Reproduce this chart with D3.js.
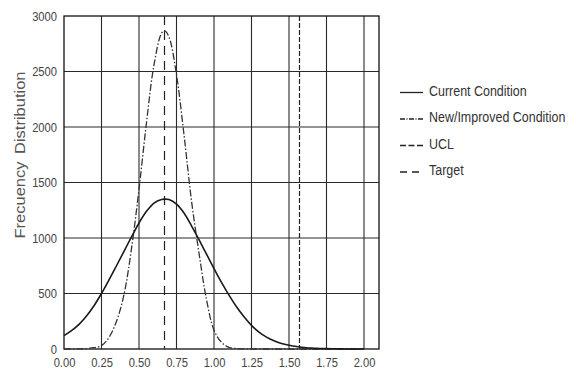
<!DOCTYPE html>
<html>
<head>
<meta charset="utf-8">
<script src="https://cdn.jsdelivr.net/npm/d3@7"></script>
<style>
  body { margin: 0; background: #fff; }
  text { font-family: "Liberation Sans", Arial, sans-serif; }
</style>
</head>
<body>
<div id="chart"></div>
<script>
// x positions where the curves were read
const xValues = [0, 0.05, 0.10, 0.15, 0.20, 0.25, 0.30, 0.35, 0.40, 0.45, 0.50, 0.55, 0.60, 0.65, 0.67, 0.70,
  0.75, 0.80, 0.85, 0.90, 0.95, 1.00, 1.05, 1.10, 1.15, 1.20, 1.25, 1.30, 1.35, 1.40, 1.45, 1.50,
  1.55, 1.60, 1.65, 1.70, 1.75, 1.80, 1.85, 1.90, 1.95, 2.00];
const currentCondition = [120, 165, 222, 298, 390, 500, 622, 750, 880, 1010, 1135, 1240, 1315, 1347, 1350, 1346,
  1305, 1225, 1110, 985, 855, 725, 600, 485, 380, 290, 213, 152, 107, 74, 50, 34,
  22, 14, 8, 5, 3, 2, 1, 0, 0, 0];
const newCondition = [0, 0, 1, 4, 12, 30, 105, 250, 490, 905, 1440, 2040, 2560, 2845, 2868, 2810,
  2470, 1930, 1335, 865, 445, 170, 60, 15, 4, 1, 0, 0, 0, 0, 0, 0,
  0, 0, 0, 0, 0, 0, 0, 0, 0, 0];
const ucl = 1.57;
const target = 0.67;
const xTicks = [0, 0.25, 0.5, 0.75, 1.0, 1.25, 1.5, 1.75, 2.0];
const yTicks = [0, 500, 1000, 1500, 2000, 2500, 3000];
const legendLabels = ["Current Condition", "New/Improved Condition", "UCL", "Target"];

const width = 576, height = 371;
const plotLeft = 64, plotRight = 379, plotTop = 16, plotBottom = 349;
const squeeze = 0.86; // the lettering in the reference is narrow

const svg = d3.select("#chart")
  .append("svg")
  .attr("width", width)
  .attr("height", height);

const x = d3.scaleLinear().domain([0, 2.1]).range([plotLeft, plotRight]);
const y = d3.scaleLinear().domain([0, 3000]).range([plotBottom, plotTop]);

// grid
svg.append("g")
  .selectAll("line")
  .data(xTicks.slice(1))
  .enter()
  .append("line")
  .attr("x1", d => x(d)).attr("x2", d => x(d))
  .attr("y1", plotTop).attr("y2", plotBottom)
  .attr("stroke", "#2a2a2a")
  .attr("stroke-width", 1.1);

svg.append("g")
  .selectAll("line")
  .data(yTicks.slice(1, -1))
  .enter()
  .append("line")
  .attr("x1", plotLeft).attr("x2", plotRight)
  .attr("y1", d => y(d)).attr("y2", d => y(d))
  .attr("stroke", "#2a2a2a")
  .attr("stroke-width", 1.1);

// axes (labels only)
const xAxis = svg.append("g")
  .attr("transform", "translate(0," + plotBottom + ")")
  .call(d3.axisBottom(x).tickValues(xTicks).tickFormat(d3.format(".2f")).tickSize(0).tickPadding(9));
const yAxis = svg.append("g")
  .attr("transform", "translate(" + plotLeft + ",0)")
  .call(d3.axisLeft(y).tickValues(yTicks).tickFormat(d3.format("d")).tickSize(0).tickPadding(7));
[xAxis, yAxis].forEach(a => {
  a.select(".domain").remove();
  a.selectAll("text")
    .attr("fill", "#444")
    .style("font-size", "13px");
});
xAxis.selectAll("text").attr("transform", "scale(" + squeeze + ",1)");
yAxis.selectAll("text")
  .attr("x", -7 / squeeze)
  .attr("transform", "scale(" + squeeze + ",1)");

// border
svg.append("rect")
  .attr("x", plotLeft).attr("y", plotTop)
  .attr("width", plotRight - plotLeft).attr("height", plotBottom - plotTop)
  .attr("fill", "none")
  .attr("stroke", "#111")
  .attr("stroke-width", 1.3);

// reference lines
svg.append("line")
  .attr("x1", x(target)).attr("x2", x(target))
  .attr("y1", plotTop).attr("y2", plotBottom)
  .attr("stroke", "#222").attr("stroke-width", 1.2)
  .attr("stroke-dasharray", "9,6");
svg.append("line")
  .attr("x1", x(ucl)).attr("x2", x(ucl))
  .attr("y1", plotTop).attr("y2", plotBottom)
  .attr("stroke", "#222").attr("stroke-width", 1.2)
  .attr("stroke-dasharray", "5,2");

// curves
const line = d3.line()
  .x((d, i) => x(xValues[i]))
  .y(d => y(Math.max(0, d)))
  .curve(d3.curveCatmullRom.alpha(0.5));

svg.append("path")
  .datum(newCondition)
  .attr("d", line)
  .attr("fill", "none")
  .attr("stroke", "#333")
  .attr("stroke-width", 1.3)
  .attr("stroke-dasharray", "7,2,1.5,2");

svg.append("path")
  .datum(currentCondition)
  .attr("d", line)
  .attr("fill", "none")
  .attr("stroke", "#1a1a1a")
  .attr("stroke-width", 1.6);

// y label
svg.append("text")
  .attr("transform", "translate(25,155) rotate(-90) scale(1," + squeeze + ")")
  .attr("text-anchor", "middle")
  .attr("fill", "#555")
  .style("font-size", "16.5px")
  .style("word-spacing", "3px")
  .text("Frecuency Distribution");

// legend
const dashes = [null, "5,1.5,1,1.5", "6,2.5", "7,5"];
const legend = svg.append("g");
const rows = legend.selectAll("g")
  .data(legendLabels)
  .enter()
  .append("g")
  .attr("transform", (d, i) => "translate(400," + (92.5 + i * 26.5) + ")");
rows.append("line")
  .attr("x1", 0).attr("x2", 23)
  .attr("stroke", "#222")
  .attr("stroke-width", 1.3)
  .attr("stroke-dasharray", (d, i) => dashes[i]);
rows.append("text")
  .attr("x", 29 / squeeze)
  .attr("y", 3)
  .attr("transform", "scale(" + squeeze + ",1)")
  .attr("fill", "#333")
  .style("font-size", "14.5px")
  .text(d => d);
</script>
</body>
</html>
